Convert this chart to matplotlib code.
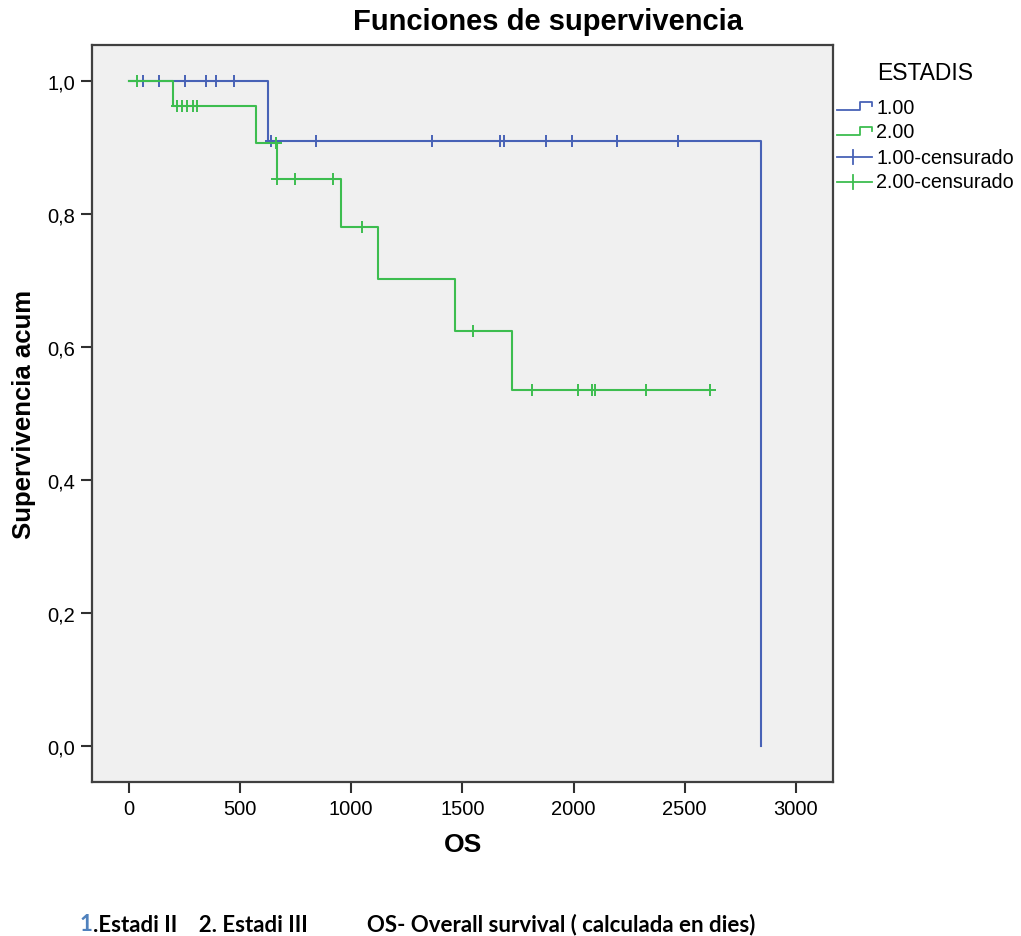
import matplotlib
matplotlib.use("Agg")
import matplotlib.pyplot as plt
from matplotlib.lines import Line2D
import numpy as np

plt.rcParams['font.family'] = ['Liberation Sans', 'DejaVu Sans']

# Kaplan-Meier steps (days, cumulative survival)
blue_times = [626, 2842]
blue_surv = [0.909, 0.0]
blue_censored = [63, 135, 252, 347, 392, 473, 640, 842, 1365, 1670, 1685,
                 1874, 1995, 2194, 2468]

green_times = [198, 572, 667, 952, 1121, 1468, 1725]
green_surv = [0.962, 0.907, 0.852, 0.781, 0.702, 0.624, 0.535]
green_censored = [36, 216, 239, 261, 288, 306, 660, 667, 748, 919, 1050,
                  1549, 1815, 2022, 2085, 2095, 2324, 2612]
green_end = 2612

x_ticks = [0, 500, 1000, 1500, 2000, 2500, 3000]
y_ticks = [0.0, 0.2, 0.4, 0.6, 0.8, 1.0]
y_ticklabels = ["0,0", "0,2", "0,4", "0,6", "0,8", "1,0"]
legend_labels = ["1.00", "2.00", "1.00-censurado", "2.00-censurado"]

BLUE = "#4862b6"
GREEN = "#3dbd4f"
W, H = 1021, 937


def px(x, y):
    return x / W, 1 - y / H


def surv_at(t, times, surv):
    i = np.searchsorted(times, t, side="right")
    return 1.0 if i == 0 else surv[i - 1]


fig = plt.figure(figsize=(W / 100, H / 100), dpi=100)
ax = fig.add_axes([92 / W, 1 - 783 / H, 741 / W, 737 / H])
ax.set_facecolor("#f0f0f0")

# blue curve
bx = [0] + blue_times
by = [1.0] + blue_surv
ax.step(bx, by, where="post", color=BLUE, lw=1.5)
ax.plot(blue_censored, [surv_at(t, blue_times, blue_surv) for t in blue_censored],
        ls="none", marker="+", ms=8, mew=1.4, color=BLUE)

# green curve
gx = [0] + green_times + [green_end]
gy = [1.0] + green_surv + [green_surv[-1]]
ax.step(gx, gy, where="post", color=GREEN, lw=1.5)
ax.plot(green_censored, [surv_at(t, green_times, green_surv) for t in green_censored],
        ls="none", marker="+", ms=8, mew=1.4, color=GREEN)

ax.set_xlim(-166, 3167)
ax.set_ylim(-0.054, 1.054)
ax.set_xticks(x_ticks)
ax.set_yticks(y_ticks)
ax.set_yticklabels(y_ticklabels)
ax.tick_params(direction="out", length=8, width=1.5, color="#303030",
               labelsize=14.5, pad=4)
for s in ax.spines.values():
    s.set_linewidth(1.6)
    s.set_color("#404040")

ax.set_xlabel("OS", fontsize=19, fontweight="bold", labelpad=10)
ax.set_ylabel("Supervivencia acum", fontsize=18.5, fontweight="bold", labelpad=8)

fig.text(*px(548, 22), "Funciones de supervivencia", fontsize=21,
         fontweight="bold", ha="center", va="center")

# legend drawn by hand
fig.text(*px(877, 73), "ESTADIS", fontsize=16.5, ha="left", va="center")
rows = [108, 133, 158, 183]
colors = [BLUE, GREEN, BLUE, GREEN]
for i, (lab, c, y) in enumerate(zip(legend_labels, colors, rows)):
    if i < 2:
        xs = [837, 860, 860, 872, 872]
        ys = [y + 3, y + 3, y - 5, y - 5, y - 1]
        p = [px(a, b) for a, b in zip(xs, ys)]
        fig.add_artist(Line2D([q[0] for q in p], [q[1] for q in p],
                              transform=fig.transFigure, color=c, lw=1.3))
    else:
        a, b = px(837, y), px(872, y)
        fig.add_artist(Line2D([a[0], b[0]], [a[1], b[1]],
                              transform=fig.transFigure, color=c, lw=1.3))
        a, b = px(853, y - 7), px(853, y + 7)
        fig.add_artist(Line2D([a[0], b[0]], [a[1], b[1]],
                              transform=fig.transFigure, color=c, lw=1.3))
    fig.text(*px(876, y), lab, fontsize=14.2, ha="left", va="center")

# footnote, the leading "1" in blue
foot = ["Lato", "DejaVu Sans"]
t1 = fig.text(*px(80, 925), "1", fontsize=16, fontweight="bold", color="#4f81bd",
              family=foot, ha="left", va="center")
ax.annotate(".Estadi II    2. Estadi III           OS- Overall survival ( calculada en dies)",
            xy=(1, 0.5), xycoords=t1, ha="left", va="center",
            fontsize=16, fontweight="bold", family=foot, annotation_clip=False)

fig.savefig("out.png", dpi=100, facecolor="white")
